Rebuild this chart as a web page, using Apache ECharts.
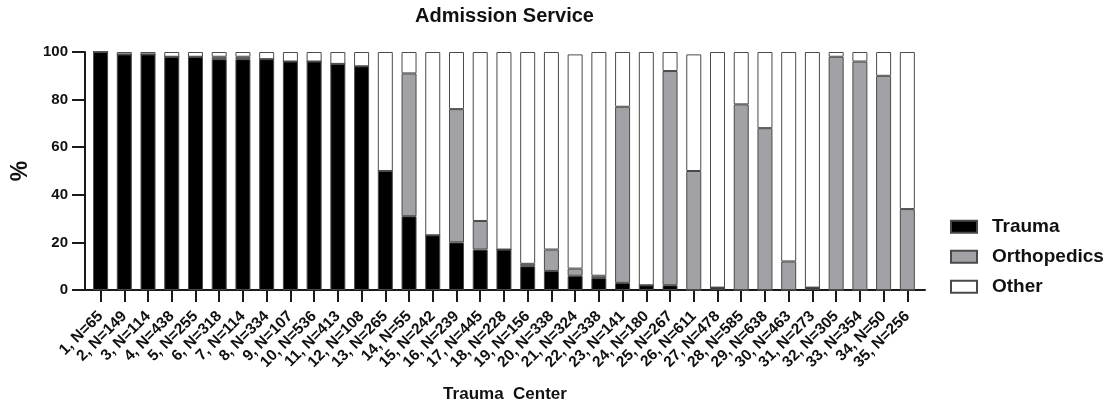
<!DOCTYPE html>
<html>
<head>
<meta charset="utf-8">
<script src="https://cdn.jsdelivr.net/npm/echarts@6/dist/echarts.min.js"></script>
<style>
html,body{margin:0;padding:0;background:#fff;}
#chart{width:1109px;height:403px;}
</style>
</head>
<body>
<div id="chart"></div>
<script>
const centers = [1,2,3,4,5,6,7,8,9,10,11,12,13,14,15,16,17,18,19,20,21,22,23,24,25,26,27,28,29,30,31,32,33,34,35];
const sampleN = [65,149,114,438,255,318,114,334,107,536,413,108,265,55,242,239,445,228,156,338,324,338,141,180,267,611,478,585,638,463,273,305,354,50,256];
const categories = centers.map((c, i) => c + ', N=' + sampleN[i]);
const trauma = [100,99,99,98,98,97,97,97,96,96,95,94,50,31,23,20,17,17,10,8,6,5,3,2,2,0,1,0,0,0,1,0,0,0,0];
const orthopedics = [0,0,0,0,0,1,1,0,0,0,0,0,0,60,0,56,12,0,1,9,3,1,74,0,90,50,0,78,68,12,0,98,96,90,34];
const other = [0,1,1,2,2,2,2,3,4,4,5,6,50,9,77,24,71,83,89,83,90,94,23,98,8,49,99,22,32,88,99,2,4,10,66];
const yTicks = [0,20,40,60,80,100];

const FONT = '"Liberation Sans", Arial, sans-serif';
const AXIS = '#1a1a1a';
const BORDER = '#4a4a4a';

const chart = echarts.init(document.getElementById('chart'), null, {renderer: 'canvas'});
const barBase = {type: 'bar', stack: 'total', barWidth: 15, xAxisIndex: 0, yAxisIndex: 0};
chart.setOption({
  animation: false,
  backgroundColor: '#fff',
  title: {
    text: 'Admission Service',
    left: 504.5, top: 6, textAlign: 'center', padding: 0,
    textStyle: {fontFamily: FONT, fontWeight: 'bold', fontSize: 20, color: '#111'}
  },
  legend: {
    orient: 'vertical', left: 950, top: 216.7, padding: 0,
    itemWidth: 26, itemHeight: 12, itemGap: 10,
    textStyle: {fontFamily: FONT, fontWeight: 'bold', fontSize: 19, color: '#111', lineHeight: 20, padding: [0,0,0,10]},
    data: [{name: 'Trauma', icon: 'rect'}, {name: 'Orthopedics', icon: 'rect'}, {name: 'Other', icon: 'rect'}]
  },
  grid: [
    {left: 88.7, right: 189.8, top: 52, bottom: 113, containLabel: false, outerBoundsMode: 'none'},
    {left: 85, right: 184, top: 52, bottom: 113, containLabel: false, outerBoundsMode: 'none'}
  ],
  xAxis: [
    {
      type: 'category', gridIndex: 0, data: categories,
      axisLine: {show: false},
      axisTick: {show: true, alignWithLabel: true, length: 12, lineStyle: {color: AXIS, width: 2}},
      axisLabel: {rotate: 45, interval: 0, margin: 24, fontFamily: FONT, fontWeight: 'bold', fontSize: 15.5, color: '#111'}
    },
    {
      type: 'value', gridIndex: 1, min: 0, max: 1,
      axisLine: {show: true, lineStyle: {color: AXIS, width: 2}},
      axisTick: {show: false}, axisLabel: {show: false}, splitLine: {show: false},
      name: 'Trauma  Center', nameLocation: 'middle', nameGap: 96,
      nameTextStyle: {fontFamily: FONT, fontWeight: 'bold', fontSize: 17, color: '#111'}
    }
  ],
  yAxis: [
    {type: 'value', gridIndex: 0, min: 0, max: 100, interval: 20, show: false},
    {
      type: 'value', gridIndex: 1, min: yTicks[0], max: yTicks[yTicks.length-1], interval: 20,
      axisLine: {show: true, lineStyle: {color: AXIS, width: 2}},
      axisTick: {show: true, length: 13, lineStyle: {color: AXIS, width: 2}},
      axisLabel: {margin: 17, fontFamily: FONT, fontWeight: 'bold', fontSize: 15, color: '#111'},
      splitLine: {show: false},
      name: '%', nameLocation: 'middle', nameGap: 52, nameRotate: 90,
      nameTextStyle: {fontFamily: FONT, fontWeight: 'bold', fontSize: 23, color: '#111'}
    }
  ],
  series: [
    Object.assign({}, barBase, {name: 'Trauma', data: trauma, itemStyle: {color: '#000000', borderColor: BORDER, borderWidth: 1}}),
    Object.assign({}, barBase, {name: 'Orthopedics', data: orthopedics, itemStyle: {color: '#a2a2a6', borderColor: BORDER, borderWidth: 1}}),
    Object.assign({}, barBase, {name: 'Other', data: other, itemStyle: {color: '#ffffff', borderColor: BORDER, borderWidth: 1}})
  ]
});
</script>
</body>
</html>
